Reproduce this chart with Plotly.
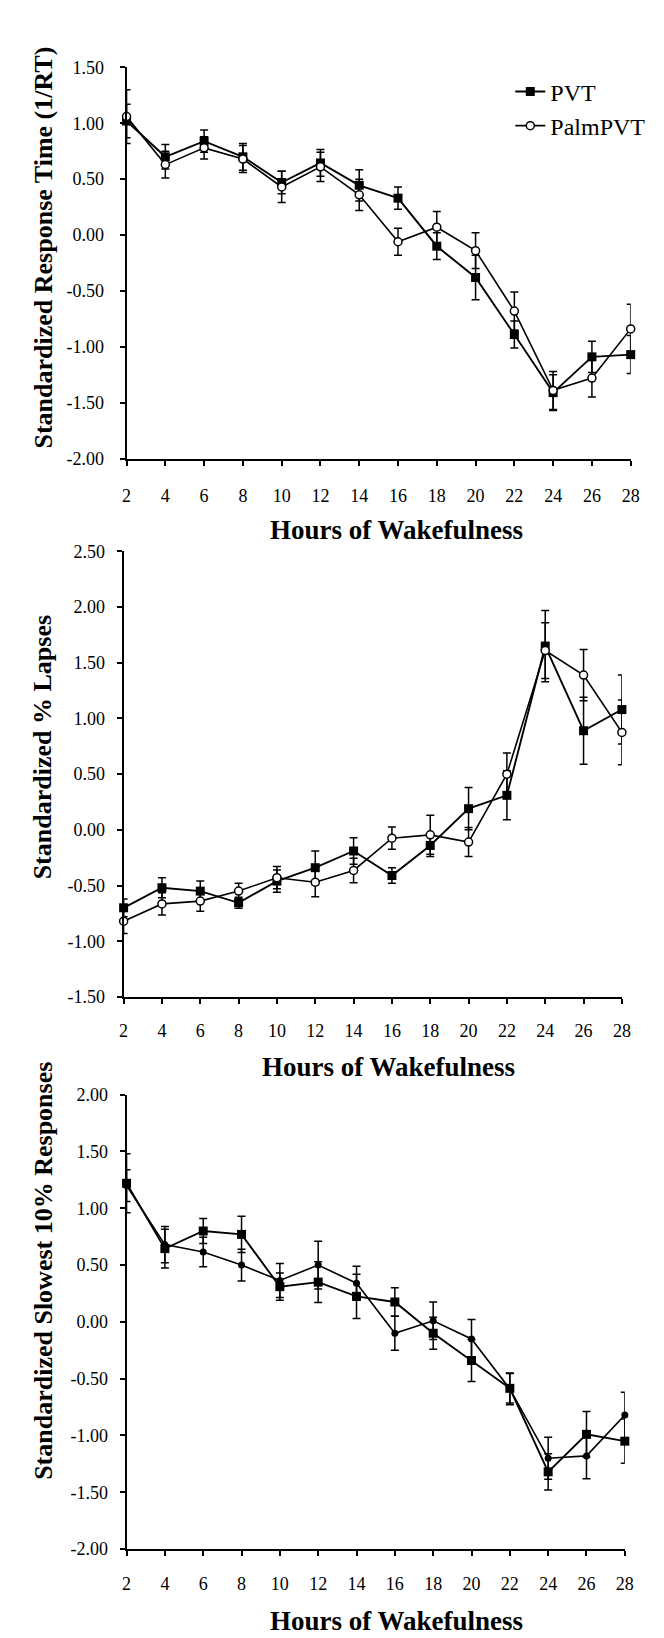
import plotly.graph_objects as go

# ---------------- data ----------------
hours = [2, 4, 6, 8, 10, 12, 14, 16, 18, 20, 22, 24, 26, 28]

pvt_rt = [1.02, 0.70, 0.84, 0.70, 0.47, 0.645, 0.445, 0.33, -0.10, -0.38, -0.89, -1.41, -1.09, -1.07]
pvt_rt_err = [0.15, 0.11, 0.10, 0.12, 0.10, 0.12, 0.14, 0.10, 0.12, 0.20, 0.12, 0.16, 0.14, 0.17]
palm_rt = [1.06, 0.63, 0.78, 0.68, 0.43, 0.61, 0.36, -0.06, 0.07, -0.14, -0.68, -1.39, -1.28, -0.84]
palm_rt_err = [0.24, 0.12, 0.10, 0.12, 0.14, 0.13, 0.14, 0.12, 0.14, 0.16, 0.17, 0.17, 0.17, 0.22]

pvt_lapse = [-0.70, -0.52, -0.55, -0.655, -0.46, -0.34, -0.19, -0.41, -0.14, 0.19, 0.31, 1.65, 0.89, 1.08]
pvt_lapse_err = [0.08, 0.09, 0.09, 0.05, 0.10, 0.15, 0.12, 0.07, 0.10, 0.19, 0.22, 0.32, 0.30, 0.31]
palm_lapse = [-0.82, -0.665, -0.64, -0.55, -0.43, -0.47, -0.365, -0.075, -0.045, -0.11, 0.50, 1.61, 1.39, 0.875]
palm_lapse_err = [0.11, 0.10, 0.09, 0.07, 0.10, 0.13, 0.11, 0.10, 0.175, 0.13, 0.19, 0.25, 0.23, 0.29]

pvt_slow = [1.22, 0.645, 0.80, 0.77, 0.31, 0.35, 0.225, 0.175, -0.10, -0.34, -0.585, -1.32, -0.99, -1.05]
pvt_slow_err = [0.26, 0.17, 0.11, 0.16, 0.12, 0.18, 0.195, 0.125, 0.14, 0.185, 0.13, 0.16, 0.20, 0.195]
palm_slow = [1.20, 0.68, 0.615, 0.50, 0.365, 0.50, 0.34, -0.10, 0.01, -0.15, -0.59, -1.20, -1.18, -0.82]
palm_slow_err = [0.14, 0.16, 0.13, 0.14, 0.15, 0.21, 0.15, 0.15, 0.165, 0.17, 0.14, 0.185, 0.20, 0.20]

y1_ticks = [1.5, 1.0, 0.5, 0.0, -0.5, -1.0, -1.5, -2.0]
y2_ticks = [2.5, 2.0, 1.5, 1.0, 0.5, 0.0, -0.5, -1.0, -1.5]
y3_ticks = [2.0, 1.5, 1.0, 0.5, 0.0, -0.5, -1.0, -1.5, -2.0]
x_ticks = hours

series_names = ["PVT", "PalmPVT"]
y_titles = ["Standardized Response Time (1/RT)", "Standardized % Lapses",
            "Standardized Slowest 10% Responses"]
x_title = "Hours of Wakefulness"

# ---------------- layout constants (pixels) ----------------
W, H = 664, 1638
FONT = "Liberation Serif"
panels = [
    # x_left, x_right, y_top, y_bottom
    (116, 631, 50, 446),
    (113, 622, 540, 991),
    (116, 625, 1090, 1550),
]
y_ranges = [[-2.0, 1.5], [-1.5, 2.5], [-2.0, 2.0]]
y_tickvals = [y1_ticks, y2_ticks, y3_ticks]


def fmt(v):
    return "%.2f" % v


fig = go.Figure()

data_sets = [
    (pvt_rt, pvt_rt_err, palm_rt, palm_rt_err),
    (pvt_lapse, pvt_lapse_err, palm_lapse, palm_lapse_err),
    (pvt_slow, pvt_slow_err, palm_slow, palm_slow_err),
]

for i, (pv, pve, pa, pae) in enumerate(data_sets):
    xa = "x" if i == 0 else "x%d" % (i + 1)
    ya = "y" if i == 0 else "y%d" % (i + 1)
    err_style = dict(type="data", visible=True, color="black", thickness=1.5, width=4)
    fig.add_trace(go.Scatter(
        x=hours, y=pv, xaxis=xa, yaxis=ya, mode="lines+markers",
        name=series_names[0], showlegend=(i == 0), cliponaxis=False,
        line=dict(color="black", width=1.9),
        marker=dict(symbol="square", size=9, color="black"),
        error_y=dict(array=pve, **err_style),
    ))
    if i < 2:
        mk = dict(symbol="circle", size=8, color="white", line=dict(color="black", width=1.5))
    else:
        mk = dict(symbol="circle", size=7, color="black")
    fig.add_trace(go.Scatter(
        x=hours, y=pa, xaxis=xa, yaxis=ya, mode="lines+markers",
        name=series_names[1], showlegend=(i == 0), cliponaxis=False,
        line=dict(color="black", width=1.6),
        marker=mk,
        error_y=dict(array=pae, **err_style),
    ))

axis_common = dict(showline=True, linecolor="black", linewidth=2, ticks="outside",
                   ticklen=5, tickwidth=1.5, tickcolor="black", showgrid=False,
                   zeroline=False, tickfont=dict(family=FONT, size=18, color="black"))

layout = dict(
    width=W, height=H, margin=dict(l=0, r=0, t=0, b=0),
    paper_bgcolor="white", plot_bgcolor="white",
    font=dict(family=FONT, color="black"),
    legend=dict(x=508 / W, y=1 - 52 / H, xanchor="left", yanchor="top",
                font=dict(family=FONT, size=24, color="black"),
                bgcolor="rgba(0,0,0,0)", tracegroupgap=0, itemwidth=30),
)

annotations = []
x_label_offsets = [15, 12, 12]
y_label_offsets = [12, 8, 8]
for i, (xl, xr, yt, yb) in enumerate(panels):
    sx = "xaxis" if i == 0 else "xaxis%d" % (i + 1)
    sy = "yaxis" if i == 0 else "yaxis%d" % (i + 1)
    anchor_x = "y" if i == 0 else "y%d" % (i + 1)
    anchor_y = "x" if i == 0 else "x%d" % (i + 1)
    layout[sx] = dict(domain=[xl / W, xr / W], range=[2, 28], anchor=anchor_x,
                      tickvals=x_ticks, ticktext=[str(v) for v in x_ticks],
                      ticklabelstandoff=x_label_offsets[i], **axis_common)
    layout[sy] = dict(domain=[1 - yb / H, 1 - yt / H], range=y_ranges[i], anchor=anchor_y,
                      tickvals=y_tickvals[i], ticktext=[fmt(v) for v in y_tickvals[i]],
                      ticklabelstandoff=y_label_offsets[i], **axis_common)

# axis titles as annotations
x_title_pos = [(392, 518), (384, 1062), (392, 1623)]
y_title_pos = [(31, 232), (31, 738), (31, 1268)]
for i in range(3):
    annotations.append(dict(text="<b>%s</b>" % x_title, xref="paper", yref="paper",
                            x=x_title_pos[i][0] / W, y=1 - x_title_pos[i][1] / H,
                            xanchor="center", yanchor="middle", showarrow=False,
                            font=dict(family=FONT, size=27, color="black")))
    annotations.append(dict(text="<b>%s</b>" % y_titles[i], xref="paper", yref="paper",
                            x=y_title_pos[i][0] / W, y=1 - y_title_pos[i][1] / H,
                            xanchor="center", yanchor="middle", showarrow=False,
                            textangle=-90,
                            font=dict(family=FONT, size=26, color="black")))
layout["annotations"] = annotations

fig.update_layout(**layout)
fig.write_html("out.html")
